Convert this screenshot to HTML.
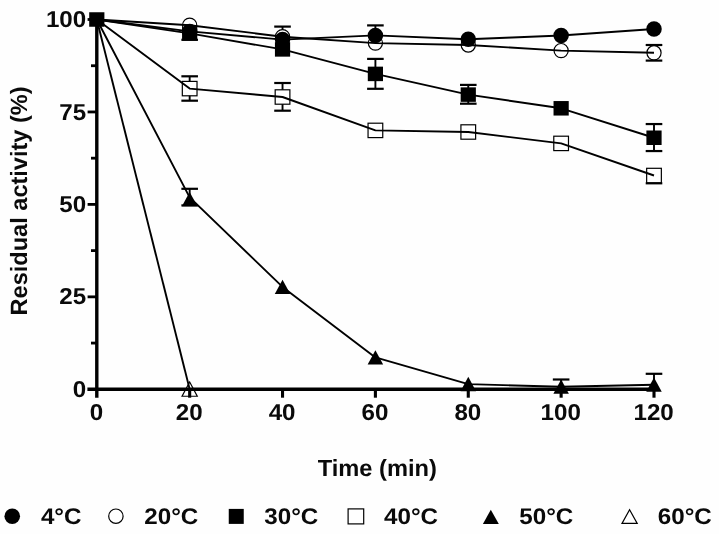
<!DOCTYPE html>
<html lang="en"><head><meta charset="utf-8"><title>Residual activity vs time</title>
<style>
html,body{margin:0;padding:0;background:#fff;}
body{width:719px;height:534px;overflow:hidden;}
svg{display:block;filter:blur(0.4px);}
svg text{font-family:"Liberation Sans",sans-serif;font-weight:bold;fill:#0a0a0a;text-rendering:geometricPrecision;}
</style></head><body>
<svg width="719" height="534" viewBox="0 0 719 534">
<rect width="719" height="534" fill="#fefefe"/>
<g id="series">
<g class="s-60C">
<polygon points="189.67,381.95 197.27,396.25 182.07,396.25" fill="#fff" stroke="#000" stroke-width="1.2"/>
<path d="M96.80 19.50 L189.67 389.20" stroke="#000" stroke-width="1.9" fill="none" stroke-linejoin="round"/>
</g>
<g class="s-50C">
<path d="M189.67 188.80V205.40" stroke="#000" stroke-width="1.9" fill="none"/>
<path d="M181.37 188.80H197.97" stroke="#000" stroke-width="2.2" fill="none"/>
<path d="M181.37 205.40H197.97" stroke="#000" stroke-width="2.2" fill="none"/>
<path d="M561.13 379.50V386.80" stroke="#000" stroke-width="1.9" fill="none"/>
<path d="M552.83 379.50H569.43" stroke="#000" stroke-width="2.2" fill="none"/>
<path d="M654.00 373.80V384.70" stroke="#000" stroke-width="1.9" fill="none"/>
<path d="M645.70 373.80H662.30" stroke="#000" stroke-width="2.2" fill="none"/>
<polygon points="189.67,191.95 197.42,206.25 181.92,206.25" fill="#000" stroke="#000" stroke-width="0"/>
<polygon points="282.53,279.65 290.28,293.95 274.78,293.95" fill="#000" stroke="#000" stroke-width="0"/>
<polygon points="375.40,350.15 383.15,364.45 367.65,364.45" fill="#000" stroke="#000" stroke-width="0"/>
<polygon points="468.27,376.85 476.02,391.15 460.52,391.15" fill="#000" stroke="#000" stroke-width="0"/>
<polygon points="561.13,379.55 568.88,393.85 553.38,393.85" fill="#000" stroke="#000" stroke-width="0"/>
<polygon points="654.00,377.45 661.75,391.75 646.25,391.75" fill="#000" stroke="#000" stroke-width="0"/>
<path d="M96.80 19.50 L189.67 197.40 L282.53 286.90 L375.40 357.40 L468.27 384.10 L561.13 386.80 L654.00 384.70" stroke="#000" stroke-width="1.9" fill="none" stroke-linejoin="round"/>
</g>
<g class="s-40C">
<path d="M189.67 76.30V100.70" stroke="#000" stroke-width="1.9" fill="none"/>
<path d="M181.37 76.30H197.97" stroke="#000" stroke-width="2.2" fill="none"/>
<path d="M181.37 100.70H197.97" stroke="#000" stroke-width="2.2" fill="none"/>
<path d="M282.53 83.00V110.70" stroke="#000" stroke-width="1.9" fill="none"/>
<path d="M274.23 83.00H290.83" stroke="#000" stroke-width="2.2" fill="none"/>
<path d="M274.23 110.70H290.83" stroke="#000" stroke-width="2.2" fill="none"/>
<path d="M654.00 175.50V183.30" stroke="#000" stroke-width="1.9" fill="none"/>
<path d="M645.70 183.30H662.30" stroke="#000" stroke-width="2.2" fill="none"/>
<rect x="182.32" y="81.40" width="14.7" height="14.4" fill="#fff" stroke="#000" stroke-width="1.2"/>
<rect x="275.18" y="89.80" width="14.7" height="14.4" fill="#fff" stroke="#000" stroke-width="1.2"/>
<rect x="368.05" y="123.20" width="14.7" height="14.4" fill="#fff" stroke="#000" stroke-width="1.2"/>
<rect x="460.92" y="124.80" width="14.7" height="14.4" fill="#fff" stroke="#000" stroke-width="1.2"/>
<rect x="553.78" y="136.20" width="14.7" height="14.4" fill="#fff" stroke="#000" stroke-width="1.2"/>
<rect x="646.65" y="168.30" width="14.7" height="14.4" fill="#fff" stroke="#000" stroke-width="1.2"/>
<path d="M96.80 19.50 L189.67 88.60 L282.53 97.00 L375.40 130.40 L468.27 132.00 L561.13 143.40 L654.00 175.50" stroke="#000" stroke-width="1.9" fill="none" stroke-linejoin="round"/>
</g>
<g class="s-30C">
<path d="M189.67 33.40V39.80" stroke="#000" stroke-width="1.9" fill="none"/>
<path d="M181.37 39.80H197.97" stroke="#000" stroke-width="2.2" fill="none"/>
<path d="M375.40 58.90V88.80" stroke="#000" stroke-width="1.9" fill="none"/>
<path d="M367.10 58.90H383.70" stroke="#000" stroke-width="2.2" fill="none"/>
<path d="M367.10 88.80H383.70" stroke="#000" stroke-width="2.2" fill="none"/>
<path d="M468.27 84.90V103.70" stroke="#000" stroke-width="1.9" fill="none"/>
<path d="M459.97 84.90H476.57" stroke="#000" stroke-width="2.2" fill="none"/>
<path d="M459.97 103.70H476.57" stroke="#000" stroke-width="2.2" fill="none"/>
<path d="M654.00 124.05V151.05" stroke="#000" stroke-width="1.9" fill="none"/>
<path d="M645.70 124.05H662.30" stroke="#000" stroke-width="2.2" fill="none"/>
<path d="M645.70 151.05H662.30" stroke="#000" stroke-width="2.2" fill="none"/>
<rect x="89.20" y="12.25" width="15.2" height="14.5" fill="#000" stroke="#000" stroke-width="0"/>
<rect x="182.07" y="26.15" width="15.2" height="14.5" fill="#000" stroke="#000" stroke-width="0"/>
<rect x="274.93" y="42.15" width="15.2" height="14.5" fill="#000" stroke="#000" stroke-width="0"/>
<rect x="367.80" y="66.65" width="15.2" height="14.5" fill="#000" stroke="#000" stroke-width="0"/>
<rect x="460.67" y="87.35" width="15.2" height="14.5" fill="#000" stroke="#000" stroke-width="0"/>
<rect x="553.53" y="101.05" width="15.2" height="14.5" fill="#000" stroke="#000" stroke-width="0"/>
<rect x="646.40" y="130.50" width="15.2" height="14.5" fill="#000" stroke="#000" stroke-width="0"/>
<path d="M96.80 19.50 L189.67 33.40 L282.53 49.40 L375.40 73.90 L468.27 94.60 L561.13 108.30 L654.00 137.75" stroke="#000" stroke-width="1.9" fill="none" stroke-linejoin="round"/>
</g>
<g class="s-20C">
<path d="M282.53 26.60V36.70" stroke="#000" stroke-width="1.9" fill="none"/>
<path d="M274.23 26.60H290.83" stroke="#000" stroke-width="2.2" fill="none"/>
<path d="M654.00 45.00V60.60" stroke="#000" stroke-width="1.9" fill="none"/>
<path d="M645.70 45.00H662.30" stroke="#000" stroke-width="2.2" fill="none"/>
<path d="M645.70 60.60H662.30" stroke="#000" stroke-width="2.2" fill="none"/>
<circle cx="189.67" cy="25.20" r="7.1" fill="#fff" stroke="#000" stroke-width="1.2"/>
<circle cx="282.53" cy="36.70" r="7.1" fill="#fff" stroke="#000" stroke-width="1.2"/>
<circle cx="375.40" cy="43.10" r="7.1" fill="#fff" stroke="#000" stroke-width="1.2"/>
<circle cx="468.27" cy="45.00" r="7.1" fill="#fff" stroke="#000" stroke-width="1.2"/>
<circle cx="561.13" cy="50.60" r="7.1" fill="#fff" stroke="#000" stroke-width="1.2"/>
<circle cx="654.00" cy="52.80" r="7.1" fill="#fff" stroke="#000" stroke-width="1.2"/>
<path d="M96.80 19.50 L189.67 25.20 L282.53 36.70 L375.40 43.10 L468.27 45.00 L561.13 50.60 L654.00 52.80" stroke="#000" stroke-width="1.9" fill="none" stroke-linejoin="round"/>
</g>
<g class="s-4C">
<path d="M375.40 25.40V35.40" stroke="#000" stroke-width="1.9" fill="none"/>
<path d="M367.10 25.40H383.70" stroke="#000" stroke-width="2.2" fill="none"/>
<circle cx="189.67" cy="31.40" r="7.75" fill="#000" stroke="#000" stroke-width="0"/>
<circle cx="282.53" cy="39.60" r="7.75" fill="#000" stroke="#000" stroke-width="0"/>
<circle cx="375.40" cy="35.40" r="7.75" fill="#000" stroke="#000" stroke-width="0"/>
<circle cx="468.27" cy="39.30" r="7.75" fill="#000" stroke="#000" stroke-width="0"/>
<circle cx="561.13" cy="35.50" r="7.75" fill="#000" stroke="#000" stroke-width="0"/>
<circle cx="654.00" cy="29.00" r="7.75" fill="#000" stroke="#000" stroke-width="0"/>
<path d="M96.80 19.50 L189.67 31.40 L282.53 39.60 L375.40 35.40 L468.27 39.30 L561.13 35.50 L654.00 29.00" stroke="#000" stroke-width="1.9" fill="none" stroke-linejoin="round"/>
</g>
</g>
<g id="axes">
<path d="M96.80 19.5V397.70" stroke="#000" stroke-width="3.4" fill="none"/>
<path d="M87.40 389.30H655.40" stroke="#000" stroke-width="3.5" fill="none"/>
<path d="M87.60 296.85H96.80" stroke="#000" stroke-width="2.8" fill="none"/>
<path d="M87.60 204.40H96.80" stroke="#000" stroke-width="2.8" fill="none"/>
<path d="M87.60 111.95H96.80" stroke="#000" stroke-width="2.8" fill="none"/>
<path d="M87.60 19.50H96.80" stroke="#000" stroke-width="2.8" fill="none"/>
<path d="M91.00 343.07H96.80" stroke="#000" stroke-width="2.8" fill="none"/>
<path d="M91.00 250.62H96.80" stroke="#000" stroke-width="2.8" fill="none"/>
<path d="M91.00 158.18H96.80" stroke="#000" stroke-width="2.8" fill="none"/>
<path d="M91.00 65.73H96.80" stroke="#000" stroke-width="2.8" fill="none"/>
<path d="M189.67 389.30V397.70" stroke="#000" stroke-width="3.1" fill="none"/>
<path d="M282.53 389.30V397.70" stroke="#000" stroke-width="3.1" fill="none"/>
<path d="M375.40 389.30V397.70" stroke="#000" stroke-width="3.1" fill="none"/>
<path d="M468.27 389.30V397.70" stroke="#000" stroke-width="3.1" fill="none"/>
<path d="M561.13 389.30V397.70" stroke="#000" stroke-width="3.1" fill="none"/>
<path d="M654.00 389.30V397.70" stroke="#000" stroke-width="3.1" fill="none"/>
<text transform="translate(86.20 396.90) scale(1.05 1)" font-size="23" text-anchor="end">0</text>
<text transform="translate(86.20 304.45) scale(1.05 1)" font-size="23" text-anchor="end">25</text>
<text transform="translate(86.20 212.00) scale(1.05 1)" font-size="23" text-anchor="end">50</text>
<text transform="translate(86.20 119.55) scale(1.05 1)" font-size="23" text-anchor="end">75</text>
<text transform="translate(86.20 27.10) scale(1.05 1)" font-size="23" text-anchor="end">100</text>
<text transform="translate(96.40 420.20) scale(1.05 1)" font-size="23" text-anchor="middle">0</text>
<text transform="translate(189.27 420.20) scale(1.05 1)" font-size="23" text-anchor="middle">20</text>
<text transform="translate(282.13 420.20) scale(1.05 1)" font-size="23" text-anchor="middle">40</text>
<text transform="translate(375.00 420.20) scale(1.05 1)" font-size="23" text-anchor="middle">60</text>
<text transform="translate(467.87 420.20) scale(1.05 1)" font-size="23" text-anchor="middle">80</text>
<text transform="translate(560.73 420.20) scale(1.05 1)" font-size="23" text-anchor="middle">100</text>
<text transform="translate(653.60 420.20) scale(1.05 1)" font-size="23" text-anchor="middle">120</text>
<text transform="translate(377.30 475.90) scale(1.012 1)" font-size="23.4" text-anchor="middle">Time (min)</text>
<text transform="translate(26.80 200.90) rotate(-90)" font-size="23.55" text-anchor="middle">Residual activity (%)</text>
</g>
<g id="legend">
<circle cx="12.25" cy="516.2" r="7.8" fill="#000"/>
<circle cx="115.9" cy="516.2" r="7.2" fill="#fff" stroke="#000" stroke-width="1.2"/>
<rect x="228.75" y="508.90000000000003" width="15" height="15" fill="#000"/>
<rect x="348.1" y="508.90000000000003" width="15.6" height="15" fill="#fff" stroke="#000" stroke-width="1.2"/>
<polygon points="490.8,509.70000000000005 498.8,523.9000000000001 482.9,523.9000000000001" fill="#000"/>
<polygon points="629.6,509.70000000000005 637.2,523.4000000000001 622,523.4000000000001" fill="#fff" stroke="#000" stroke-width="1.2"/>
<text transform="translate(40.90 523.80) scale(1.07 1)" font-size="22.6" text-anchor="start">4°C</text>
<text transform="translate(144.30 523.80) scale(1.07 1)" font-size="22.6" text-anchor="start">20°C</text>
<text transform="translate(264.30 523.80) scale(1.07 1)" font-size="22.6" text-anchor="start">30°C</text>
<text transform="translate(384.00 523.80) scale(1.07 1)" font-size="22.6" text-anchor="start">40°C</text>
<text transform="translate(519.30 523.80) scale(1.07 1)" font-size="22.6" text-anchor="start">50°C</text>
<text transform="translate(657.80 523.80) scale(1.07 1)" font-size="22.6" text-anchor="start">60°C</text>
</g>
</svg>
</body></html>
